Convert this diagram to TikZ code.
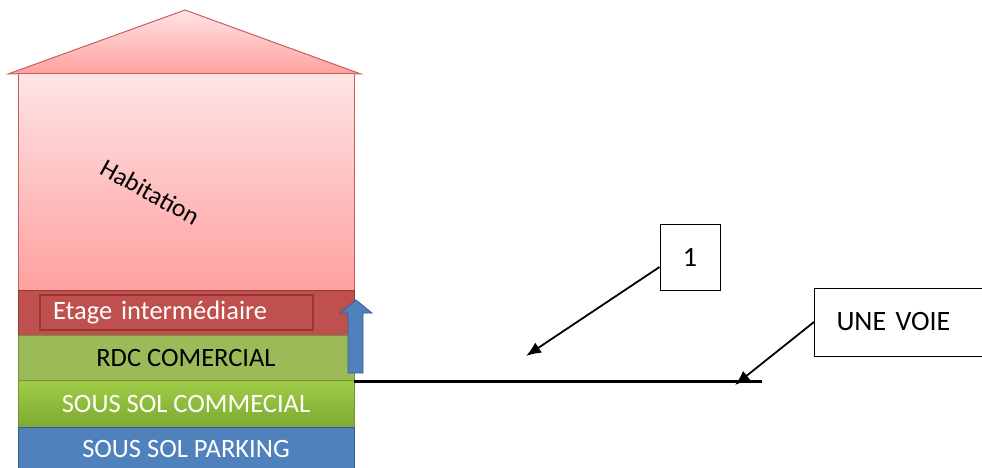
\documentclass[tikz,border=0pt]{standalone}
\usepackage{fontspec}
\setmainfont{Carlito}
\usetikzlibrary{arrows.meta}
\definecolor{habtop}{RGB}{255,228,228}
\definecolor{habbot}{RGB}{255,160,160}
\definecolor{habline}{RGB}{200,95,92}
\definecolor{etagered}{RGB}{192,80,77}
\definecolor{etageline}{RGB}{150,55,52}
\definecolor{rdcgreen}{RGB}{155,187,89}
\definecolor{rdcline}{RGB}{118,146,60}
\definecolor{sstop}{RGB}{160,205,70}
\definecolor{ssbot}{RGB}{125,170,50}
\definecolor{parkblue}{RGB}{79,129,189}
\definecolor{parkline}{RGB}{56,93,138}
\tikzset{
  floor/.style={minimum width=336pt, inner sep=0pt, font=\fontsize{26.5}{30}\selectfont},
  callout/.style={draw, line width=1pt, fill=white, font=\fontsize{28}{32}\selectfont},
  pointer/.style={-{Latex[length=15pt,width=12pt]}, line width=1.8pt}
}
\begin{document}
\begin{tikzpicture}[x=1pt,y=-1pt]
\clip (0,0) rectangle (982,468);
% batiment
\shade[top color=habtop, bottom color=habbot, draw=habline, line width=1pt]
  (8,74) -- (185,10) -- (361,74) -- cycle;
\shade[top color=habtop, bottom color=habbot, draw=habline, line width=1pt]
  (18,74) rectangle (354,290);
\node[rotate=-29, font=\fontsize{25.5}{30}\selectfont] (hab) at (150,192) {Habitation};
\node[floor, fill=etagered, draw=etageline, minimum height=45pt] (etage) at (186,312.5) {};
\node[draw=etageline, line width=1.5pt, fill=etagered, minimum height=35pt,
  inner xsep=13pt, text width=247pt, align=left, text=white,
  font=\fontsize{26.5}{30}\selectfont] (etagebox) at (176.5,312.5) {Etage intermédiaire};
\node[floor, fill=rdcgreen, draw=rdcline, minimum height=45pt] (rdc) at (186,357.5) {RDC COMERCIAL};
\node[floor, top color=sstop, bottom color=ssbot, draw=rdcline, minimum height=47pt, text=white] (sscom) at (186,403.5) {SOUS SOL COMMECIAL};
\node[floor, fill=parkblue, draw=parkline, minimum height=44pt, text=white] (park) at (186,449) {SOUS SOL PARKING};
% fleche bleue
\draw[fill=parkblue, draw=parkline, line width=0.8pt]
  (348,373) -- (348,313) -- (340,313) -- (356,300) -- (372,313) -- (363,313) -- (363,373) -- cycle;
% voie
\coordinate (roadL) at (354,381);
\coordinate (roadR) at (762,381);
\draw[line width=3pt] (roadL) -- (roadR);
\node[callout, minimum width=60pt, minimum height=66pt] (one) at (690,257) {1};
\node[callout, anchor=west, minimum height=68pt, inner xsep=22pt, text width=140pt, align=left] (voie) at (814,322) {UNE VOIE};
\coordinate (tipone) at (526,356);
\coordinate (tipvoie) at (735,385);
\draw[pointer] ([yshift=-10pt]one.west) -- (tipone);
\draw[pointer] (voie.west) -- (tipvoie);
\end{tikzpicture}
\end{document}
